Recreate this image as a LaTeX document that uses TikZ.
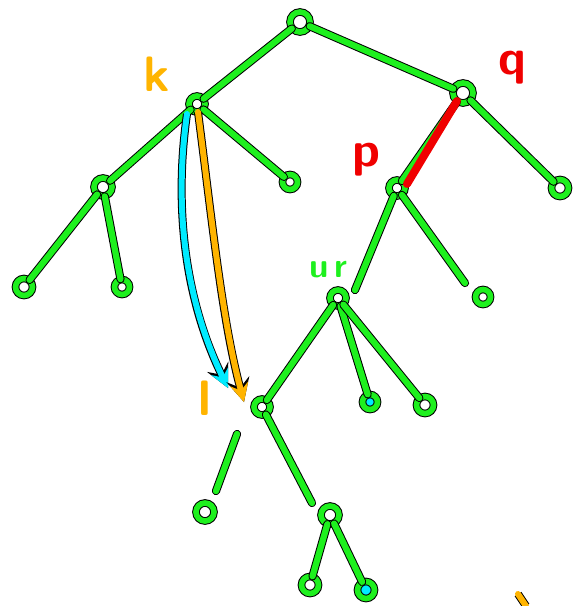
\documentclass[tikz,border=0pt]{standalone}
\definecolor{lgreen}{RGB}{30,240,30}
\definecolor{lorange}{RGB}{255,180,0}
\definecolor{lcyan}{RGB}{0,235,255}
\definecolor{lred}{RGB}{240,0,0}
\tikzset{
  vtx/.style={circle,draw=black,line width=0.5pt,double=lgreen,double distance=2.8pt,inner sep=0pt,minimum size=7.5pt},
  edge/.style={draw=black,line width=0.5pt,double=lgreen,double distance=3.1pt,line cap=round},
  stroke/.style={preaction={draw=black,line width=4pt},draw=#1,line width=3pt,line cap=round},
  lbl/.style={font=\Huge\sffamily\bfseries}
}
\begin{document}
\begin{tikzpicture}[x=0.5pt,y=-0.5pt,>=stealth]
	\useasboundingbox (0,0) rectangle (576,606);
	% tree nodes
	\node[vtx,minimum size=10pt] (root) at (300,22) {};
	\node[vtx,minimum size=8pt] (k) at (197,104) {};
	\node[vtx,minimum size=10pt] (q) at (463,93) {};
	\node[vtx,minimum size=9pt] (a) at (103,187) {};
	\node[vtx] (b) at (290,182) {};
	\node[vtx,minimum size=8.5pt] (a1) at (24,287) {};
	\node[vtx] (a2) at (122,287) {};
	\node[vtx,minimum size=8pt] (p) at (397,188) {};
	\node[vtx,minimum size=8.5pt] (c) at (560,188) {};
	\node[vtx] (c1) at (483,297) {};
	\node[vtx,minimum size=8pt] (u) at (338,298) {};
	\node[vtx,minimum size=8pt] (l) at (262,407) {};
	\node[vtx,fill=lcyan] (u2) at (370,402) {};
	\node[vtx,minimum size=8.5pt] (u3) at (425,405) {};
	\node[vtx,minimum size=9pt] (l1) at (205,512) {};
	\node[vtx,minimum size=9pt] (m) at (330,515) {};
	\node[vtx,minimum size=8.5pt] (m1) at (310,585) {};
	\node[vtx,minimum size=8.5pt,fill=lcyan] (m2) at (366,590) {};
	% free ends
	\coordinate (pl) at (355,290);
	\coordinate (pr) at (465,283);
	\coordinate (ls1) at (237,434);
	\coordinate (ls2) at (216,491);
	\coordinate (lr) at (312,503);
	% edges
	\draw[edge] (root) -- (k);
	\draw[edge] (root) -- (q);
	\draw[edge] (k) -- (a);
	\draw[edge] (k) -- (b);
	\draw[edge] (a) -- (a1);
	\draw[edge] (a) -- (a2);
	\draw[edge] (q) -- (p);
	\draw[edge] (q) -- (c);
	\draw[edge] (p) -- (pl);
	\draw[edge] (p) -- (pr);
	\draw[edge] (u) -- (l);
	\draw[edge] (u) -- (u2);
	\draw[edge] (u) -- (u3);
	\draw[edge] (ls1) -- (ls2);
	\draw[edge] (l) -- (lr);
	\draw[edge] (m) -- (m1);
	\draw[edge] (m) -- (m2);
	% red path q -> p
	\draw[lred,line width=4pt,line cap=round] ([shift={(-6,8)}]q.center) -- ([shift={(10,-4)}]p.center);
	% cyan and orange paths from k to l
	\draw[stroke=lcyan,->] ([shift={(-10,10)}]k.center) .. controls (172,220) and (190,310) .. (228,388);
	\draw[stroke=lorange,->] ([shift={(1,8)}]k.center) .. controls (212,220) and (222,320) .. (244,402);
	\draw[stroke=lorange] (518,594) -- (526,606);
	% labels
	\node[lbl,text=lorange] (klbl) at (157,74) {k};
	\node[lbl,text=lred] (qlbl) at (512,68) {q};
	\node[lbl,text=lred] (plbl) at (366,160) {p};
	\node[lbl,text=lgreen,font=\LARGE\sffamily\bfseries] (ulbl) at (328,270) {u\,r};
	\node[lbl,text=lorange] (llbl) at (205,398) {l};
\end{tikzpicture}
\end{document}
